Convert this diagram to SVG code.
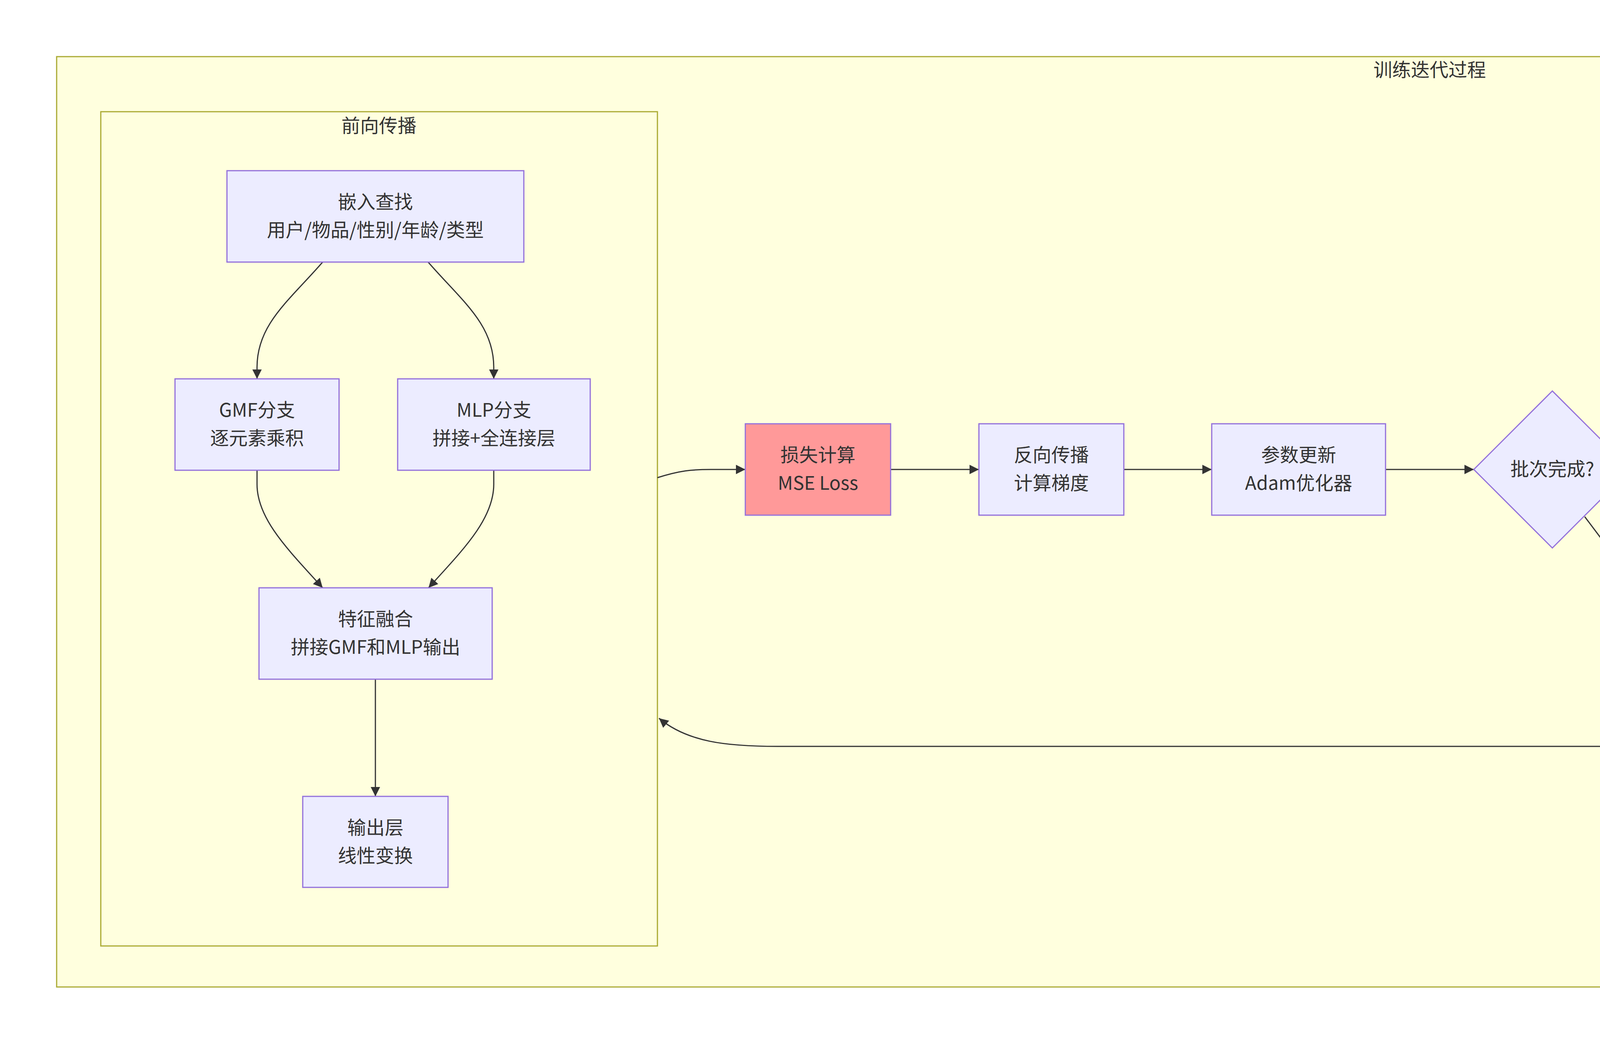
<svg xmlns="http://www.w3.org/2000/svg" width="7321" height="2673" viewBox="0 0 7321 2673">
<style>
.cluster{fill:#ffffde;stroke:#aaaa33;stroke-width:3}
.ctitle{font-family:"Noto Sans CJK SC","Noto Sans",sans-serif;font-size:48px;fill:#333;text-anchor:middle}
.node{fill:#ECECFF;stroke:#9370DB;stroke-width:3}
.lbl{font-family:"Noto Sans CJK SC","Noto Sans",sans-serif;font-size:48px;fill:#333;text-anchor:middle}
.edge{fill:none;stroke:#333;stroke-width:3;marker-end:url(#arrow)}
.elbg{fill:#e8e8e8;fill-opacity:0.8}
.wm{font-family:"Liberation Sans",Arial,sans-serif;font-size:97px;fill:#e4e4e4;stroke:#d0d0d0;stroke-width:1}
</style>
<defs>
<marker id="arrow" viewBox="0 0 10 10" refX="10" refY="5" markerUnits="userSpaceOnUse" markerWidth="24" markerHeight="24" orient="auto">
<path d="M0,0 L10,5 L0,10 z" fill="#333"/>
</marker>
</defs>
<rect width="7321" height="2673" fill="#ffffff"/>
<g id="cluster-train">
<rect class="cluster" x="145" y="145" width="7031" height="2382"/>
<text class="ctitle" x="3660" y="196">训练迭代过程</text>
</g>
<g id="cluster-forward">
<rect class="cluster" x="258" y="286" width="1425" height="2136"/>
<text class="ctitle" x="970" y="339">前向传播</text>
</g>
<g id="edges">
<path class="edge" d="M826,671 C740,770 658,830 658,940 L658,970"/>
<path class="edge" d="M1096,671 C1182,770 1264,830 1264,940 L1264,970"/>
<path class="edge" d="M658,1204 L658,1240 C658,1330 740,1410 826,1505"/>
<path class="edge" d="M1264,1204 L1264,1240 C1264,1330 1183,1410 1097,1505"/>
<path class="edge" d="M961,1739 L961,2039"/>
<path class="edge" d="M1683,1223 C1740,1205 1770,1202 1820,1202 L1908,1202"/>
<path class="edge" d="M2280,1202 L2506,1202"/>
<path class="edge" d="M2877,1202 L3102,1202"/>
<path class="edge" d="M3547,1202 L3773,1202"/>
<path class="edge" d="M4098,1122 C4200,1040 4260,990 4340,982 L4446,981"/>
<path class="edge" d="M4057,1323 L4130,1420 C4250,1590 4380,1695 4594,1695 L6205,1695 C6420,1695 6620,1560 6741,1438"/>
<path class="edge" d="M4819,981 L5045,981"/>
<path class="edge" d="M5571,903 C5650,860 5730,826 5830,825 L5918,825"/>
<path class="edge" d="M5503,1126 L5700,1301 C5760,1354 5800,1381 5870,1381 L5958,1381"/>
<path class="edge" d="M6372,825 C6430,825 6501,879 6530,920 L6700,1160 C6725,1195 6760,1245 6774,1273"/>
<path class="edge" d="M6778,1437 C6690,1600 6540,1911 6300,1911 L1990,1911 C1860,1911 1760,1900 1687,1839"/>
</g>
<g id="edge-labels">
<g id="label-batch-yes"><rect class="elbg" x="4286" y="945" width="48" height="72"/><text class="lbl" x="4310" y="999">是</text></g>
<g id="label-batch-no"><rect class="elbg" x="5321" y="1659" width="48" height="72"/><text class="lbl" x="5345" y="1713">否</text></g>
<g id="label-conv-no"><rect class="elbg" x="5758" y="789" width="48" height="72"/><text class="lbl" x="5782" y="843">否</text></g>
<g id="label-conv-yes"><rect class="elbg" x="5758" y="1345" width="48" height="72"/><text class="lbl" x="5782" y="1399">是</text></g>
</g>
<g id="node-embed">
<rect class="node" x="581" y="437" width="760" height="234"/>
<text class="lbl" x="961" y="534">嵌入查找</text>
<text class="lbl" x="961" y="606">用户/物品/性别/年龄/类型</text>
</g>
<g id="node-gmf">
<rect class="node" x="448" y="970" width="420" height="234"/>
<text class="lbl" x="658" y="1067">GMF分支</text>
<text class="lbl" x="658" y="1139">逐元素乘积</text>
</g>
<g id="node-mlp">
<rect class="node" x="1018" y="970" width="493" height="234"/>
<text class="lbl" x="1264.5" y="1067">MLP分支</text>
<text class="lbl" x="1264.5" y="1139">拼接+全连接层</text>
</g>
<g id="node-fusion">
<rect class="node" x="663" y="1505" width="597" height="234"/>
<text class="lbl" x="961.5" y="1602">特征融合</text>
<text class="lbl" x="961.5" y="1674">拼接GMF和MLP输出</text>
</g>
<g id="node-output">
<rect class="node" x="775" y="2039" width="372" height="233"/>
<text class="lbl" x="961" y="2136">输出层</text>
<text class="lbl" x="961" y="2208">线性变换</text>
</g>
<g id="node-loss">
<rect class="node" x="1908" y="1085" width="372" height="234" style="fill:#ff9999"/>
<text class="lbl" x="2094" y="1182">损失计算</text>
<text class="lbl" x="2094" y="1254">MSE Loss</text>
</g>
<g id="node-backprop">
<rect class="node" x="2506" y="1085" width="371" height="234"/>
<text class="lbl" x="2691.5" y="1182">反向传播</text>
<text class="lbl" x="2691.5" y="1254">计算梯度</text>
</g>
<g id="node-param">
<rect class="node" x="3102" y="1085" width="445" height="234"/>
<text class="lbl" x="3324.5" y="1182">参数更新</text>
<text class="lbl" x="3324.5" y="1254">Adam优化器</text>
</g>
<g id="node-batchdone">
<polygon class="node" points="3974,1001 4175,1202 3974,1403 3773,1202"/>
<text class="lbl" x="3974" y="1218">批次完成?</text>
</g>
<g id="node-eval">
<rect class="node" x="4446" y="899" width="373" height="163" style="fill:#9999ff"/>
<text class="lbl" x="4632.5" y="996.5">模型评估</text>
</g>
<g id="node-converge">
<polygon class="node" points="5346,680 5647,981 5346,1282 5045,981"/>
<text class="lbl" x="5346" y="961">收敛或</text>
<text class="lbl" x="5346" y="1033">达到最大Epoch?</text>
</g>
<g id="node-newepoch">
<rect class="node" x="5918" y="744" width="454" height="163" style="fill:#ff99ff;stroke:#333;stroke-width:6"/>
<text class="lbl" x="6145" y="841.5">开始新Epoch</text>
</g>
<g id="node-done">
<rect class="node" x="5958" y="1299" width="374" height="165" style="fill:#99ff99;stroke:#333;stroke-width:6"/>
<text class="lbl" x="6145" y="1397.5">训练完成</text>
</g>
<g id="node-loadbatch">
<rect class="node" x="6596" y="1274" width="468" height="162"/>
<text class="lbl" x="6830" y="1371">加载批次数据</text>
</g>
<text class="wm" x="6204" y="2622">CSDN @linge511873822</text>
</svg>
